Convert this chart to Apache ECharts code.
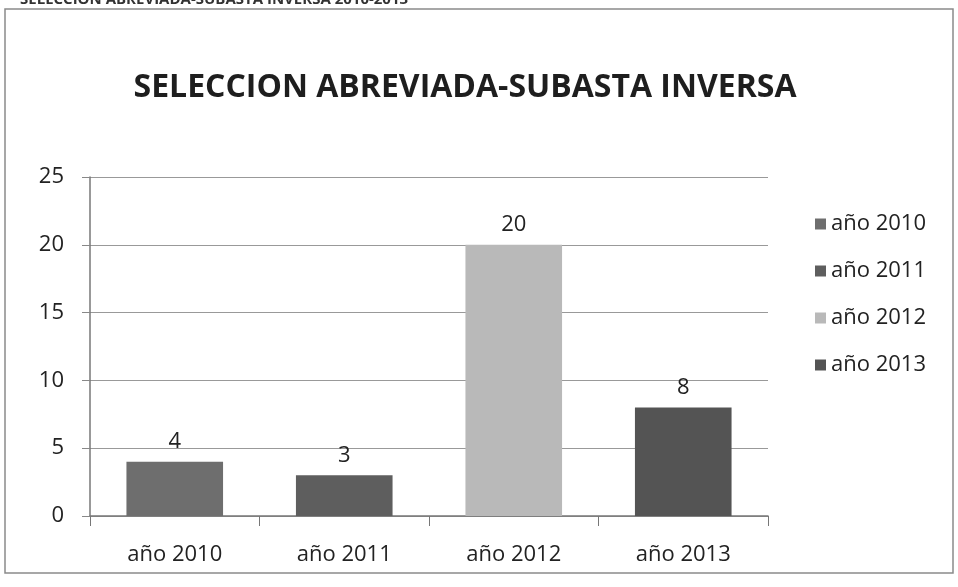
<!DOCTYPE html>
<html>
<head>
<meta charset="utf-8">
<script src="https://cdn.jsdelivr.net/npm/echarts@6/dist/echarts.min.js"></script>
<style>
  html, body { margin: 0; padding: 0; background: #fff; }
  #chart { width: 958px; height: 587px; }
</style>
</head>
<body>
<div id="chart"></div>
<script>
const categories = ["año 2010", "año 2011", "año 2012", "año 2013"];
const values = [4, 3, 20, 8];
const barColors = ["#6e6e6e", "#5e5e5e", "#b9b9b9", "#545454"];
const yTicks = { min: 0, max: 25, interval: 5 };

const chart = echarts.init(document.getElementById("chart"));

// one series per year so each gets its own legend entry (Excel "vary colors by point")
const series = categories.map((name, i) => ({
  name: name,
  type: "bar",
  stack: "all",
  barWidth: "57%",
  itemStyle: { color: barColors[i] },
  label: {
    show: true,
    position: "top",
    distance: 9,
    color: "#222",
    fontSize: 22,
    fontFamily: "Open Sans",
  },
  data: values.map((v, j) => (j === i ? v : "-")),
}));

const option = {
  animation: false,
  backgroundColor: "#fff",
  title: {
    text: "SELECCION ABREVIADA-SUBASTA INVERSA",
    left: 460,
    textAlign: "center",
    top: 67,
    textStyle: {
      fontFamily: "Open Sans",
      fontWeight: "bold",
      fontSize: 32,
      color: "#1e1e1e",
    },
  },
  graphic: [
    {
      type: "rect",
      shape: { x: 5, y: 9, width: 948, height: 564 },
      style: { fill: "none", stroke: "#8a8a8a", lineWidth: 1.5 },
      silent: true,
    },
    {
      type: "text",
      x: 20,
      y: -8,
      style: {
        text: "SELECCION ABREVIADA-SUBASTA INVERSA 2010-2013",
        font: "bold 15px 'Open Sans'",
        fill: "#333",
      },
      silent: true,
    },
  ],
  legend: {
    orient: "vertical",
    left: 810,
    top: 208,
    itemGap: 25,
    itemWidth: 11,
    itemHeight: 11,
    icon: "rect",
    textStyle: { fontFamily: "Open Sans", fontSize: 22, color: "#222" },
    data: categories,
  },
  grid: { left: 90, right: 190, top: 177, bottom: 71 },
  xAxis: {
    type: "category",
    data: categories,
    axisLine: { lineStyle: { color: "#777", width: 1.5 } },
    axisTick: { show: true, length: 10, lineStyle: { color: "#777" } },
    axisLabel: {
      margin: 28,
      fontFamily: "Open Sans",
      fontSize: 22,
      color: "#222",
    },
  },
  yAxis: {
    type: "value",
    min: yTicks.min,
    max: yTicks.max,
    interval: yTicks.interval,
    axisLine: { show: true, lineStyle: { color: "#777", width: 1.5 } },
    axisTick: { show: true, length: 8, lineStyle: { color: "#888" } },
    axisLabel: {
      margin: 26,
      fontFamily: "Open Sans",
      fontSize: 22,
      color: "#222",
    },
    splitLine: { lineStyle: { color: "#999", width: 1.2 } },
  },
  series: series,
};

chart.setOption(option);
</script>
</body>
</html>
